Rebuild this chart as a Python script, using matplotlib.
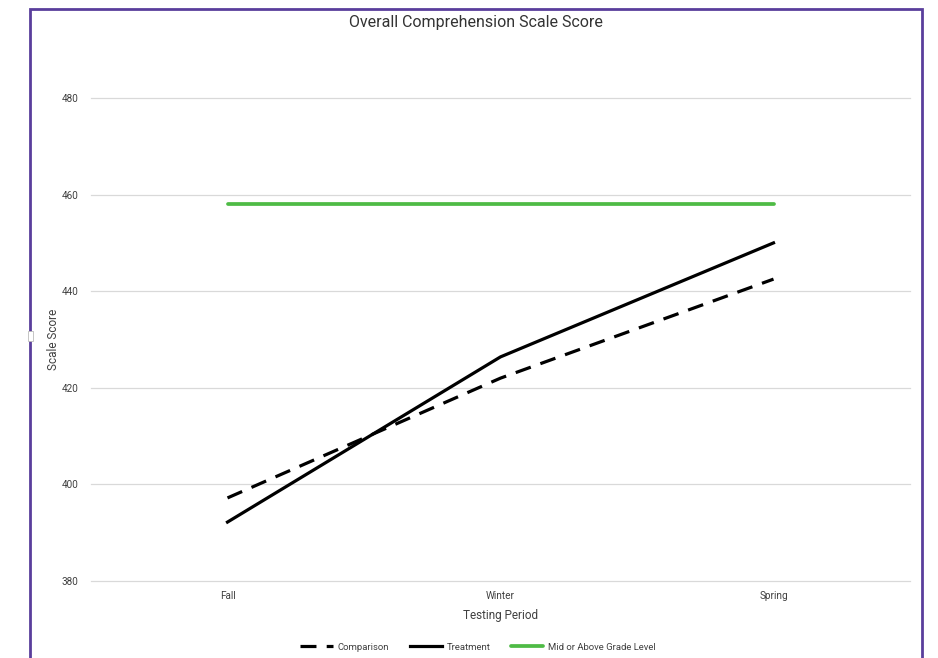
import matplotlib.pyplot as plt
from matplotlib.patches import Rectangle

plt.rcParams['font.family'] = ['Roboto', 'DejaVu Sans']

periods = ['Fall', 'Winter', 'Spring']
comparison = [397.2, 422.0, 442.5]
treatment = [392.2, 426.4, 450.0]
grade_level = [458, 458, 458]
y_ticks = [380, 400, 420, 440, 460, 480]

fig = plt.figure(figsize=(9.38, 6.58), dpi=100)
ax = fig.add_axes([91 / 938, 1 - 581 / 658, 819 / 938, (581 - 98) / 658])

x = range(len(periods))
ax.plot(x, comparison, color='black', lw=2.3, dashes=(5, 3.2), label='Comparison')
ax.plot(x, treatment, color='black', lw=2.3, label='Treatment')
ax.plot(x, grade_level, color='#4EBB45', lw=2.7, solid_capstyle='round',
        label='Mid or Above Grade Level')

ax.set_xlim(-0.5, 2.5)
ax.set_ylim(380, 480)
ax.set_yticks(y_ticks)
ax.set_xticks(list(x))
ax.set_xticklabels(periods)
ax.grid(axis='y', color='#d9d9d9', lw=0.9)
ax.set_axisbelow(True)
for gl in ax.get_ygridlines():
    gl.set_clip_on(False)
for s in ax.spines.values():
    s.set_visible(False)
ax.tick_params(length=0, labelsize=7.2, colors='#404040', pad=9)
ax.tick_params(axis='x', pad=7)

ax.set_ylabel('Scale Score', fontsize=8.5, color='#404040', labelpad=1)
ax.set_xlabel('Testing Period', fontsize=8.5, color='#404040', labelpad=6)
fig.text(476 / 938, 1 - 22 / 658, 'Overall Comprehension Scale Score',
         ha='center', va='center', fontsize=11.5, color='#333333')

fig.legend(loc='center', bbox_to_anchor=(478 / 938, 1 - 647 / 658), ncol=3,
           frameon=False, fontsize=6.8, handlelength=3.4, handletextpad=0.5,
           columnspacing=2.2, labelcolor='#404040')

# purple frame round the chart
fig.patches.append(Rectangle((30 / 938, -0.05), 892 / 938, 1.05 - 9 / 658,
                             transform=fig.transFigure, fill=False,
                             edgecolor='#5A3E9C', lw=2))
fig.patches.append(Rectangle((28 / 938, 1 - 341 / 658), 5 / 938, 10 / 658,
                             transform=fig.transFigure, facecolor='white',
                             edgecolor='#bbbbbb', lw=0.6))

fig.savefig('out.png', dpi=100)
